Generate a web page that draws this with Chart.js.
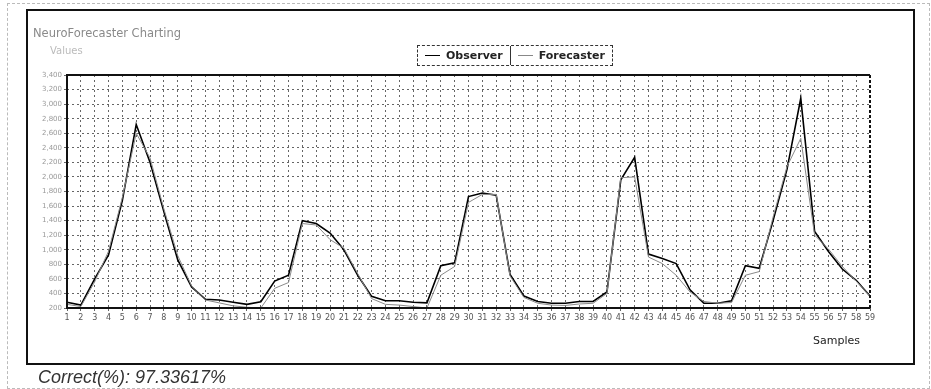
<!DOCTYPE html>
<html>
<head>
<meta charset="utf-8">
<script src="https://cdn.jsdelivr.net/npm/chart.js@4.4.1/dist/chart.umd.min.js"></script>
<style>
  html, body { margin:0; padding:0; background:#fff; }
  #wrap { position:relative; width:931px; height:389px; overflow:hidden; font-family:"DejaVu Sans", sans-serif; }
  #c { position:absolute; left:0; top:0; }
  .t { position:absolute; white-space:nowrap; }
  #outer { position:absolute; left:7px; top:3px; width:921px; height:384px; border:1px dashed #bbb; }
  #panel { position:absolute; left:26px; top:9px; width:885px; height:352px; border:2px solid #111; }
  #legend { position:absolute; left:417px; top:45px; height:19px; border:1px dashed #333; display:flex; align-items:center; font-size:11px; font-weight:bold; color:#222; background:#fff; }
  #legend .item { display:flex; align-items:center; padding:0 7px; }
  #legend .sep { width:1px; height:19px; background:#333; }
  #legend .ln { display:inline-block; width:15px; height:0; margin-right:6px; }
</style>
</head>
<body>
<div id="wrap">
  <div id="outer"></div>
  <div id="panel"></div>
  <canvas id="c" width="931" height="389"></canvas>
  <div class="t" style="left:33px; top:26px; font-size:11.5px; color:#8a8a8a;">NeuroForecaster Charting</div>
  <div class="t" style="left:50px; top:45px; font-size:10px; color:#bbb;">Values</div>
  <div id="legend">
    <div class="item"><span class="ln" style="border-top:1.5px solid #000;"></span>Observer</div>
    <div class="sep"></div>
    <div class="item"><span class="ln" style="border-top:1px solid #888;"></span>Forecaster</div>
  </div>
  <div class="t" style="left:813px; top:334px; font-size:11px; color:#222;">Samples</div>
  <div class="t" style="left:38px; top:367px; font-family:'Liberation Sans', sans-serif; font-size:18px; font-style:italic; color:#333;">Correct(%): 97.33617%</div>
</div>
<script>
const samples = Array.from({length:59}, (_, i) => String(i + 1));
const observer = [280,240,600,930,1680,2720,2200,1520,860,490,
                  320,310,280,250,285,570,650,1400,1360,1230,
                  1000,650,360,300,300,280,270,780,820,1730,
                  1780,1750,660,365,290,265,265,290,290,420,
                  1960,2270,940,880,810,450,265,265,300,780,
                  745,1400,2100,3080,1250,975,735,580,365];
const forecaster = [250,220,560,980,1720,2600,2260,1560,920,500,
                    310,270,230,210,200,470,550,1360,1340,1140,
                    1020,670,330,250,240,220,200,650,770,1650,
                    1760,1760,640,345,265,240,235,255,265,400,
                    1990,2000,900,810,650,420,290,265,275,650,
                    700,1450,2140,2530,1200,1010,770,570,365];
const yMin = 200, yMax = 3400, yStep = 200;

const borderPlugin = {
  id: 'plotBorder',
  afterDraw(chart) {
    const {ctx, chartArea:a} = chart;
    ctx.save();
    ctx.strokeStyle = '#111';
    ctx.lineWidth = 2;
    ctx.beginPath();
    ctx.moveTo(a.right, a.top); ctx.lineTo(a.left, a.top); ctx.lineTo(a.left, a.bottom); ctx.lineTo(a.right, a.bottom);
    ctx.stroke();
    ctx.setLineDash([3,2]);
    ctx.beginPath();
    ctx.moveTo(a.right, a.top); ctx.lineTo(a.right, a.bottom);
    ctx.stroke();
    ctx.restore();
  }
};

new Chart(document.getElementById('c'), {
  type: 'line',
  data: {
    labels: samples,
    datasets: [
      { label:'Forecaster', data: forecaster, borderColor:'#8a8a8a', borderWidth:1, pointRadius:0, tension:0, fill:false },
      { label:'Observer', data: observer, borderColor:'#000', borderWidth:1.6, pointRadius:0, tension:0, fill:false }
    ]
  },
  options: {
    responsive:false, animation:false,
    layout: { padding: { left:30, top:75, right:61, bottom:61 } },
    plugins: { legend:{display:false}, tooltip:{enabled:false} },
    scales: {
      x: {
        offset:false,
        afterFit: s => { s.height = 20; },
        grid: { color:'#666', lineWidth:1, tickLength:3, drawOnChartArea:true },
        border: { display:false, dash:[2,3] },
        ticks: { color:'#555', font:{ family:'DejaVu Sans', size:8 }, maxRotation:0, autoSkip:false, padding:2 }
      },
      y: {
        min:yMin, max:yMax,
        afterFit: s => { s.width = 37; },
        grid: { color:'#666', lineWidth:1, tickLength:3 },
        border: { display:false, dash:[2,3] },
        ticks: { stepSize:yStep, color:'#999', font:{ family:'DejaVu Sans', size:7 }, padding:2,
                 callback: v => v.toLocaleString('en-US') }
      }
    }
  },
  plugins: [borderPlugin]
});
</script>
</body>
</html>
